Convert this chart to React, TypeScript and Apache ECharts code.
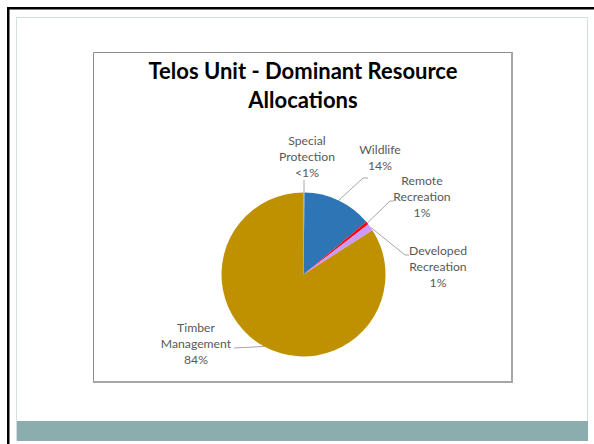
import React, { useEffect, useRef } from "react";
import * as echarts from "echarts";

const categories = [
  "Special\nProtection",
  "Wildlife",
  "Remote\nRecreation",
  "Developed\nRecreation",
  "Timber\nManagement",
];
const values = [0.2, 13.7, 0.6, 1.4, 84.1];
const percentLabels = ["<1%", "14%", "1%", "1%", "84%"];
const sliceColors = ["#A5A5A5", "#2E75B6", "#FF0000", "#CC99FF", "#BF9000"];
const titleLines = ["Telos Unit - Dominant Resource", "Allocations"];

// label placement (center of the label block) and leader-line bends
const labelPlacement = [
  { x: 307, y: 156, bends: [[304, 180]] },
  { x: 380, y: 157, bends: [[363, 178], [368, 178]] },
  { x: 422, y: 196, bends: [[390, 201], [394, 201]] },
  { x: 438, y: 266, bends: [[405, 255], [409, 255]] },
  { x: 196, y: 343, bends: [[234, 348]] },
];

export default function App() {
  const ref = useRef<HTMLDivElement>(null);
  useEffect(() => {
    if (!ref.current) return;
    const chart = echarts.init(ref.current, null, { renderer: "svg" });
    const font = "Lato, 'Open Sans', sans-serif";
    chart.setOption({
      animation: false,
      backgroundColor: "#ffffff",
      graphic: [
        // outer dark frame (top & left)
        { type: "rect", shape: { x: 7, y: 7, width: 587, height: 2.5 }, style: { fill: "#000" }, silent: true },
        { type: "rect", shape: { x: 7, y: 7, width: 2.5, height: 437 }, style: { fill: "#000" }, silent: true },
        // slide inner border
        { type: "rect", shape: { x: 16.5, y: 17.5, width: 571, height: 423 }, style: { fill: "#fff", stroke: "#D3DEDE", lineWidth: 1 }, silent: true },
        // bottom teal band
        { type: "rect", shape: { x: 17, y: 421, width: 571, height: 20 }, style: { fill: "#8BADAD" }, silent: true },
        // chart frame
        { type: "rect", shape: { x: 93.5, y: 52.5, width: 418, height: 329 }, style: { fill: "#fff", stroke: "#8C8C8C", lineWidth: 1 }, silent: true },
        { type: "line", shape: { x1: 93, y1: 382, x2: 512.5, y2: 382 }, style: { stroke: "#A6A6A6", lineWidth: 2 }, silent: true },
        { type: "line", shape: { x1: 512, y1: 52, x2: 512, y2: 383 }, style: { stroke: "#A6A6A6", lineWidth: 2 }, silent: true },
        // title
        {
          type: "text",
          x: 303,
          y: 70,
          style: { text: titleLines[0], fill: "#000", font: `bold 22px ${font}`, align: "center", verticalAlign: "middle" },
          z: 10,
        },
        {
          type: "text",
          x: 303,
          y: 99,
          style: { text: titleLines[1], fill: "#000", font: `bold 22px ${font}`, align: "center", verticalAlign: "middle" },
          z: 10,
        },
      ],
      series: [
        {
          type: "pie",
          center: [303.5, 274.5],
          radius: 82,
          startAngle: 90,
          clockwise: true,
          avoidLabelOverlap: false,
          z: 5,
          data: categories.map((name, i) => ({
            name,
            value: values[i],
            itemStyle: { color: sliceColors[i] },
          })),
          itemStyle: { borderWidth: 0 },
          label: {
            show: true,
            position: "outside",
            color: "#595959",
            fontFamily: font,
            fontSize: 12.2,
            lineHeight: 16,
            align: "center",
            formatter: (p: any) => `${p.name}\n${percentLabels[p.dataIndex]}`,
          },
          labelLine: {
            show: true,
            length: 10,
            length2: 10,
            lineStyle: { color: "#A6A6A6", width: 1 },
          },
          labelLayout: (params: any) => {
            const pl = labelPlacement[params.dataIndex];
            const start = params.labelLinePoints && params.labelLinePoints[0];
            const pts = start ? [start, ...pl.bends] : undefined;
            return {
              x: pl.x,
              y: pl.y,
              align: "center",
              verticalAlign: "middle",
              labelLinePoints: pts,
            };
          },
        },
      ],
    });
    return () => chart.dispose();
  }, []);
  return (
    <div
      ref={ref}
      style={{ position: "fixed", left: 0, top: 0, width: 594, height: 444 }}
    />
  );
}
